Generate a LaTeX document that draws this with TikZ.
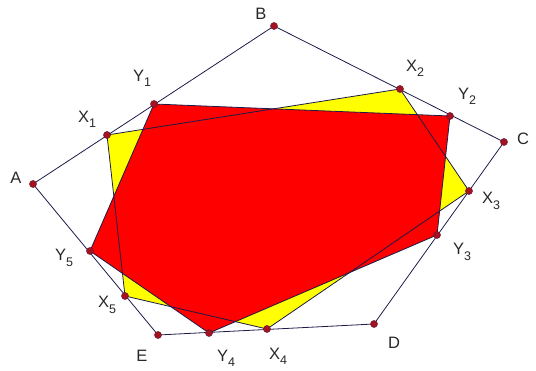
\documentclass[tikz,border=0pt]{standalone}
\usepackage{fontspec}
\setmainfont{Liberation Sans}
\definecolor{LineNavy}{RGB}{28,28,72}
\definecolor{DotRed}{RGB}{165,18,32}
\definecolor{FillRed}{RGB}{255,0,0}
\definecolor{FillYellow}{RGB}{255,255,0}
\definecolor{LabelGray}{RGB}{40,40,40}
\newcommand{\lowidx}[1]{\raisebox{-0.6ex}{\fontsize{12.5}{12.5}\selectfont #1}}

\begin{document}
\begin{tikzpicture}[
  x=1pt, y=-1pt,
  font=\fontsize{16.5}{19}\selectfont,
  edge/.style={draw=LineNavy, line width=0.8pt, line join=round},
  dot/.style={circle, fill=DotRed, draw=LineNavy!50!DotRed, line width=0.5pt, inner sep=0pt, minimum size=7pt},
  lbl/.style={inner sep=0pt, text=LabelGray}
]
\useasboundingbox (0,0) rectangle (536,371);

\coordinate (A) at (33,184);
\coordinate (B) at (274,26);
\coordinate (C) at (504,142);
\coordinate (D) at (374,324);
\coordinate (E) at (158,335);
\coordinate (X1) at (107,135);
\coordinate (X2) at (400,89);
\coordinate (X3) at (469,191);
\coordinate (X4) at (267,329);
\coordinate (X5) at (125,296);
\coordinate (Y1) at (154,104);
\coordinate (Y2) at (450,116);
\coordinate (Y3) at (437,235);
\coordinate (Y4) at (209,333);
\coordinate (Y5) at (90,251);

\fill[FillYellow] (X1) -- (X2) -- (X3) -- (X4) -- (X5) -- cycle;
\fill[FillRed] (Y1) -- (Y2) -- (Y3) -- (Y4) -- (Y5) -- cycle;

\draw[edge] (A) -- (B) -- (C) -- (D) -- (E) -- cycle;
\draw[edge] (X1) -- (X2) -- (X3) -- (X4) -- (X5) -- cycle;
\draw[edge] (Y1) -- (Y2) -- (Y3) -- (Y4) -- (Y5) -- cycle;

\foreach \p in {A,B,C,D,E,X1,X2,X3,X4,X5,Y1,Y2,Y3,Y4,Y5}
  \node[dot] (d\p) at (\p) {};

\node[lbl] (lA) at (16,178) {A};
\node[lbl] (lB) at (261,14) {B};
\node[lbl] (lC) at (523,139) {C};
\node[lbl] (lD) at (394,343) {D};
\node[lbl] (lE) at (142,356) {E};
\node[lbl] (lX1) at (87,119) {X\lowidx{1}};
\node[lbl] (lY1) at (142,78) {Y\lowidx{1}};
\node[lbl] (lX2) at (415,68) {X\lowidx{2}};
\node[lbl] (lY2) at (467,96) {Y\lowidx{2}};
\node[lbl] (lX3) at (491,201) {X\lowidx{3}};
\node[lbl] (lY3) at (462,252) {Y\lowidx{3}};
\node[lbl] (lX4) at (278,356) {X\lowidx{4}};
\node[lbl] (lY4) at (226,358) {Y\lowidx{4}};
\node[lbl] (lX5) at (107,305) {X\lowidx{5}};
\node[lbl] (lY5) at (64,258) {Y\lowidx{5}};
\end{tikzpicture}
\end{document}
